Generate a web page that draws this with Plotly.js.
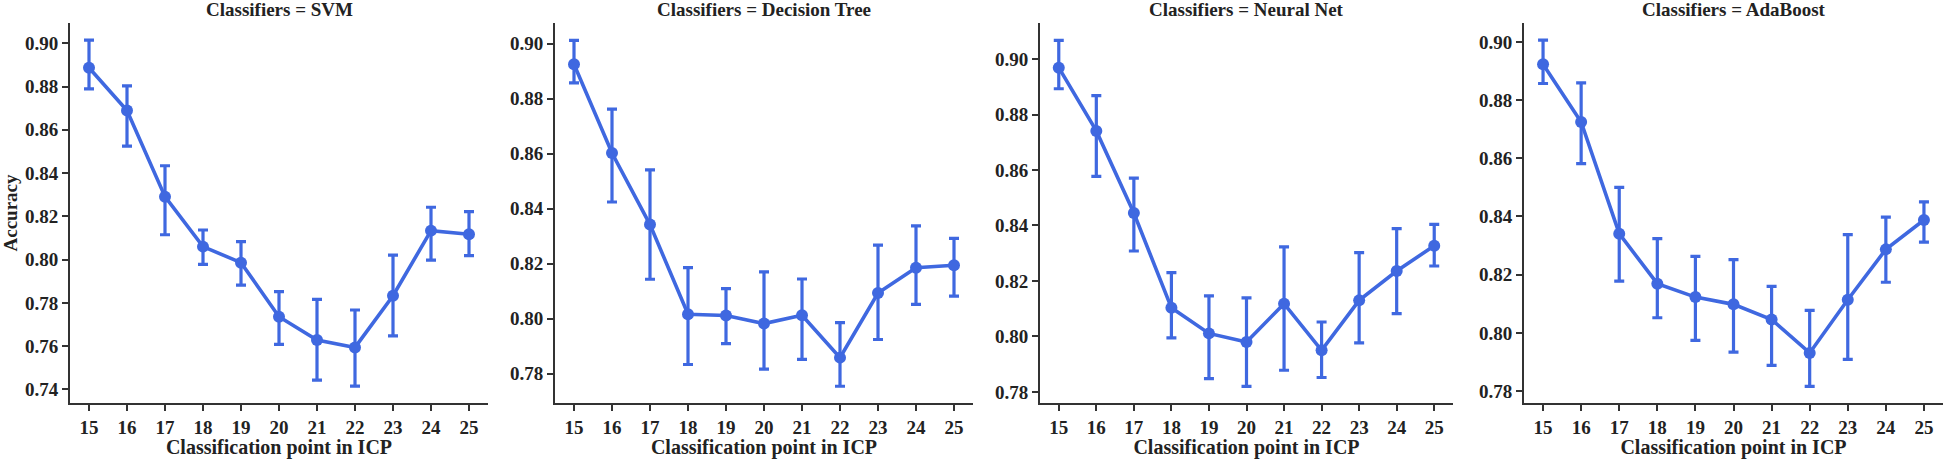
<!DOCTYPE html>
<html>
<head>
<meta charset="utf-8">
<script src="https://cdn.plot.ly/plotly-3.0.1.min.js"></script>
<style>html,body{margin:0;padding:0;background:#fff;}#chart{width:1946px;height:459px;}</style>
</head>
<body>
<div id="chart"></div>
<script>
const points = [15, 16, 17, 18, 19, 20, 21, 22, 23, 24, 25];
const classifiers = ["SVM", "Decision Tree", "Neural Net", "AdaBoost"];

const svmMean  = [0.8887, 0.8689, 0.8291, 0.8060, 0.7986, 0.7736, 0.7628, 0.7594, 0.7833, 0.8134, 0.8117];
const svmHigh  = [0.9015, 0.8803, 0.8434, 0.8137, 0.8083, 0.7852, 0.7816, 0.7767, 0.8021, 0.8242, 0.8222];
const svmLow   = [0.8789, 0.8525, 0.8115, 0.7978, 0.7882, 0.7608, 0.7443, 0.7415, 0.7647, 0.7998, 0.8018];

const dtMean   = [0.8925, 0.8602, 0.8342, 0.8016, 0.8011, 0.7982, 0.8012, 0.7858, 0.8093, 0.8185, 0.8194];
const dtHigh   = [0.9012, 0.8762, 0.8541, 0.8185, 0.8109, 0.8170, 0.8144, 0.7985, 0.8267, 0.8337, 0.8292];
const dtLow    = [0.8857, 0.8424, 0.8143, 0.7833, 0.7909, 0.7816, 0.7852, 0.7754, 0.7924, 0.8052, 0.8082];

const nnMean   = [0.8969, 0.8741, 0.8445, 0.8103, 0.8011, 0.7980, 0.8118, 0.7950, 0.8130, 0.8236, 0.8327];
const nnHigh   = [0.9067, 0.8868, 0.8571, 0.8230, 0.8146, 0.8139, 0.8323, 0.8052, 0.8302, 0.8389, 0.8404];
const nnLow    = [0.8893, 0.8577, 0.8308, 0.7995, 0.7848, 0.7820, 0.7878, 0.7852, 0.7977, 0.8082, 0.8254];

const adaMean  = [0.8923, 0.8725, 0.8341, 0.8169, 0.8123, 0.8098, 0.8046, 0.7931, 0.8114, 0.8287, 0.8388];
const adaHigh  = [0.9006, 0.8859, 0.8500, 0.8324, 0.8263, 0.8252, 0.8160, 0.8077, 0.8338, 0.8398, 0.8450];
const adaLow   = [0.8857, 0.8582, 0.8178, 0.8052, 0.7974, 0.7934, 0.7888, 0.7816, 0.7909, 0.8174, 0.8312];

const xLabel = "Classification point in ICP";
const yLabel = "Accuracy";

const series = [
  {mean: svmMean, high: svmHigh, low: svmLow},
  {mean: dtMean, high: dtHigh, low: dtLow},
  {mean: nnMean, high: nnHigh, low: nnLow},
  {mean: adaMean, high: adaHigh, low: adaLow}
];

const color = "#3f68e0";
const W = 1946, H = 459;
const xDomains = [[70, 488], [555, 973], [1040, 1453], [1524, 1943]];
const yRanges = [[0.7337, 0.9094], [0.7693, 0.9075], [0.776, 0.913], [0.7759, 0.9065]];
const yDom = [1 - 403 / H, 1 - 23 / H];
const fontFam = "Liberation Serif, Times New Roman, serif";

const traces = [];
const layout = {
  width: W, height: H,
  margin: {l: 0, r: 0, t: 0, b: 0},
  paper_bgcolor: "#ffffff",
  plot_bgcolor: "#ffffff",
  showlegend: false,
  font: {family: fontFam, color: "#222", size: 19, weight: "bold"},
  annotations: []
};

series.forEach((s, i) => {
  const n = i === 0 ? "" : String(i + 1);
  traces.push({
    type: "scatter", mode: "lines+markers",
    x: points, y: s.mean,
    xaxis: "x" + n, yaxis: "y" + n,
    line: {color: color, width: 3.6},
    marker: {color: color, size: 12},
    error_y: {
      type: "data", symmetric: false,
      array: s.high.map((v, k) => v - s.mean[k]),
      arrayminus: s.mean.map((v, k) => v - s.low[k]),
      color: color, thickness: 3.2, width: 5
    },
    hoverinfo: "x+y"
  });
  const xd = [xDomains[i][0] / W, xDomains[i][1] / W];
  layout["xaxis" + n] = {
    domain: xd, anchor: "y" + n,
    range: [14.5, 25.5], tickmode: "array", tickvals: points,
    ticks: "outside", ticklen: 6, tickwidth: 2, tickcolor: "#333",
    showline: true, linecolor: "#333", linewidth: 2,
    showgrid: false, zeroline: false, fixedrange: true,
    tickfont: {family: fontFam, size: 19, color: "#222", weight: "bold"},
    title: {text: xLabel, standoff: 3, font: {family: fontFam, size: 20, color: "#222", weight: "bold"}}
  };
  layout["yaxis" + n] = {
    domain: yDom, anchor: "x" + n,
    range: yRanges[i], dtick: 0.02, tick0: 0, tickformat: ".2f",
    ticks: "outside", ticklen: 6, tickwidth: 2, tickcolor: "#333",
    showline: true, linecolor: "#333", linewidth: 2,
    showgrid: false, zeroline: false, fixedrange: true,
    tickfont: {family: fontFam, size: 19, color: "#222", weight: "bold"},
    title: i === 0 ? {text: yLabel, standoff: 4, font: {family: fontFam, size: 19, color: "#222", weight: "bold"}} : {text: ""}
  };
  layout.annotations.push({
    text: "Classifiers = " + classifiers[i],
    xref: "paper", yref: "paper",
    x: (xd[0] + xd[1]) / 2, y: 1 - 10 / H,
    xanchor: "center", yanchor: "middle", showarrow: false,
    font: {family: fontFam, size: 19, color: "#222", weight: "bold"}
  });
});

Plotly.newPlot("chart", traces, layout, {displayModeBar: false, staticPlot: true});
</script>
</body>
</html>
